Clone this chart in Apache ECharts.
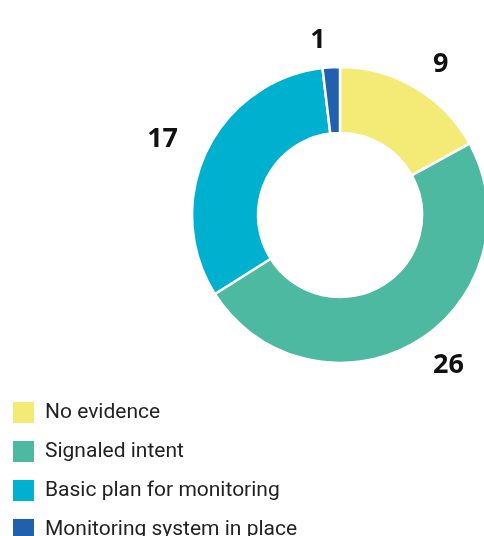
<!DOCTYPE html>
<html><head><meta charset="utf-8">
<script src="https://cdn.jsdelivr.net/npm/echarts@6/dist/echarts.min.js"></script>
<style>html,body{margin:0;padding:0;background:#fff}#c{width:484px;height:536px}</style>
</head><body><div id="c"></div>
<script>
const categories = ["No evidence", "Signaled intent", "Basic plan for monitoring", "Monitoring system in place"];
const values = [9, 26, 17, 1];
const colors = ["#F4EA76", "#4DB9A0", "#00B0CF", "#2160AC"];

const chart = echarts.init(document.getElementById('c'), null, {renderer: 'canvas'});
chart.setOption({
  animation: false,
  legend: {
    orient: 'vertical', left: 11, top: 400, height: 160, padding: 0,
    itemWidth: 23, itemHeight: 23, itemGap: 14,
    icon: 'rect',
    textStyle: {fontFamily: 'Roboto', fontSize: 21, color: '#222', padding: [0,0,0,5]},
    data: categories
  },
  series: [{
    type: 'pie',
    center: [340, 215],
    radius: [82, 148],
    startAngle: 90,
    clockwise: true,
    avoidLabelOverlap: false,
    itemStyle: {borderColor: '#fff', borderWidth: 2.5},
    label: {
      show: true, position: 'outside', formatter: '{c}',
      fontFamily: '"Open Sans"', fontWeight: 'bold', fontSize: 27, color: '#111',
      distanceToLabelLine: 4
    },
    labelLine: {show: false, length: 27, length2: 0},
    emphasis: {disabled: true},
    data: categories.map((n, i) => ({name: n, value: values[i], itemStyle: {color: colors[i]}}))
  }]
});
</script></body></html>
